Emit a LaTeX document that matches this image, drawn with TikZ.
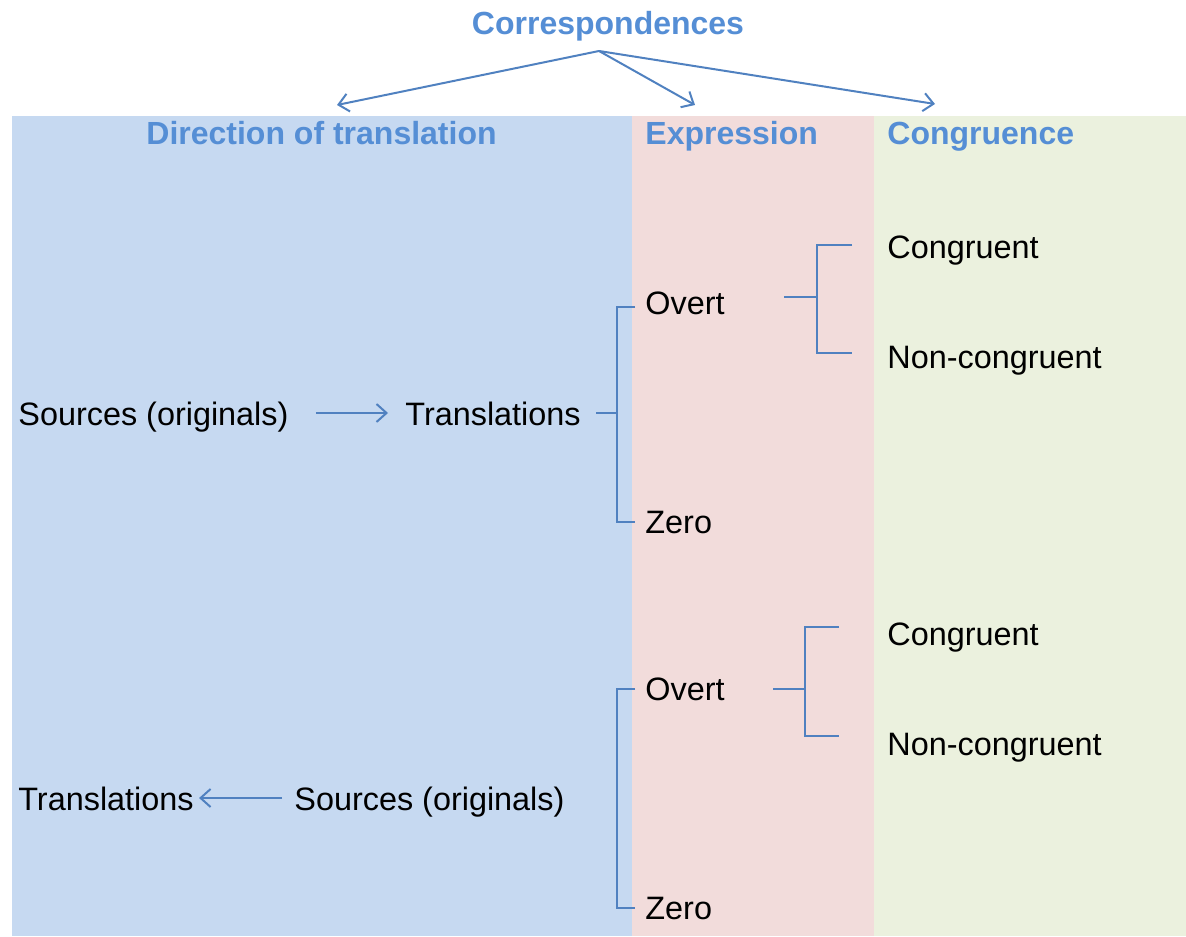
\documentclass[tikz,border=0pt]{standalone}
\usepackage{fontspec}
\setmainfont{Liberation Sans}
\usetikzlibrary{arrows.meta,calc}
\definecolor{pblue}{HTML}{C6D9F1}
\definecolor{ppink}{HTML}{F2DCDB}
\definecolor{pgreen}{HTML}{EBF1DE}
\definecolor{hblue}{HTML}{558ED5}
\definecolor{lblue}{HTML}{5081C0}
\begin{document}
\begin{tikzpicture}[x=0.5pt,y=-0.5pt,
  txt/.style={inner sep=0pt, anchor=base west, font=\fontsize{16.2}{19}\selectfont},
  hdr/.style={inner sep=0pt, anchor=base west, font=\fontsize{16}{19}\selectfont\bfseries, text=hblue},
  conn/.style={draw=lblue, line width=1pt},
  arr/.style={conn, -{Straight Barb[length=5pt,width=9pt]}}]
\useasboundingbox (0,0) rectangle (1186,936);
% panels
\fill[pblue] (12,116) rectangle (632,936);
\fill[ppink] (632,116) rectangle (874,936);
\fill[pgreen] (874,116) rectangle (1186,936);
% headers
\node[hdr, anchor=base] (corr) at (608,35) {Correspondences};
\node[hdr] (hdir) at (146,145) {Direction of translation};
\node[hdr] (hexp) at (645,145) {Expression};
\node[hdr] (hcon) at (887,145) {Congruence};
% top arrows
\coordinate (top) at (599,51);
\coordinate (tl) at (337,105);
\coordinate (tm) at (695,105);
\coordinate (tr) at (935,104);
\draw[arr] (top) -- (tl);
\draw[arr] (top) -- (tm);
\draw[arr] (top) -- (tr);
% upper group
\node[txt] (s1) at (18,425) {Sources (originals)};
\node[txt] (t1) at (405,425) {Translations};
\node[txt] (o1) at (645,314) {Overt};
\node[txt] (z1) at (645,533) {Zero};
\node[txt] (c1) at (887,258) {Congruent};
\node[txt] (n1) at (887,368) {Non-congruent};
\draw[arr] ($(s1.base east)+(27,-12)$) -- ($(t1.base west)+(-17,-12)$);
\coordinate (b1) at (617,413);
\draw[conn] ($(t1.base east)+(15,-12)$) -- (b1);
\draw[conn] ($(o1.base west)+(-10,-7)$) -| (b1) |- ($(z1.base west)+(-10,-11)$);
\coordinate (q1) at (784,297);
\coordinate (v1) at (817,297);
\draw[conn] (q1) -- (v1);
\draw[conn] ($(c1.base west)+(-35,-13)$) -| (v1) |- ($(n1.base west)+(-35,-15)$);
% lower group
\node[txt] (t2) at (18,810) {Translations};
\node[txt] (s2) at (294,810) {Sources (originals)};
\node[txt] (o2) at (645,700) {Overt};
\node[txt] (z2) at (645,919) {Zero};
\node[txt] (c2) at (887,645) {Congruent};
\node[txt] (n2) at (887,755) {Non-congruent};
\draw[arr] ($(s2.base west)+(-12,-12)$) -- ($(t2.base east)+(5,-12)$);
\coordinate (b2) at (617,700);
\draw[conn] ($(o2.base west)+(-10,-11)$) -| (b2) |- ($(z2.base west)+(-10,-11)$);
\coordinate (q2) at (773,689);
\coordinate (v2) at (805,689);
\draw[conn] (q2) -- (v2);
\draw[conn] ($(c2.base west)+(-48,-18)$) -| (v2) |- ($(n2.base west)+(-48,-19)$);
\end{tikzpicture}
\end{document}
